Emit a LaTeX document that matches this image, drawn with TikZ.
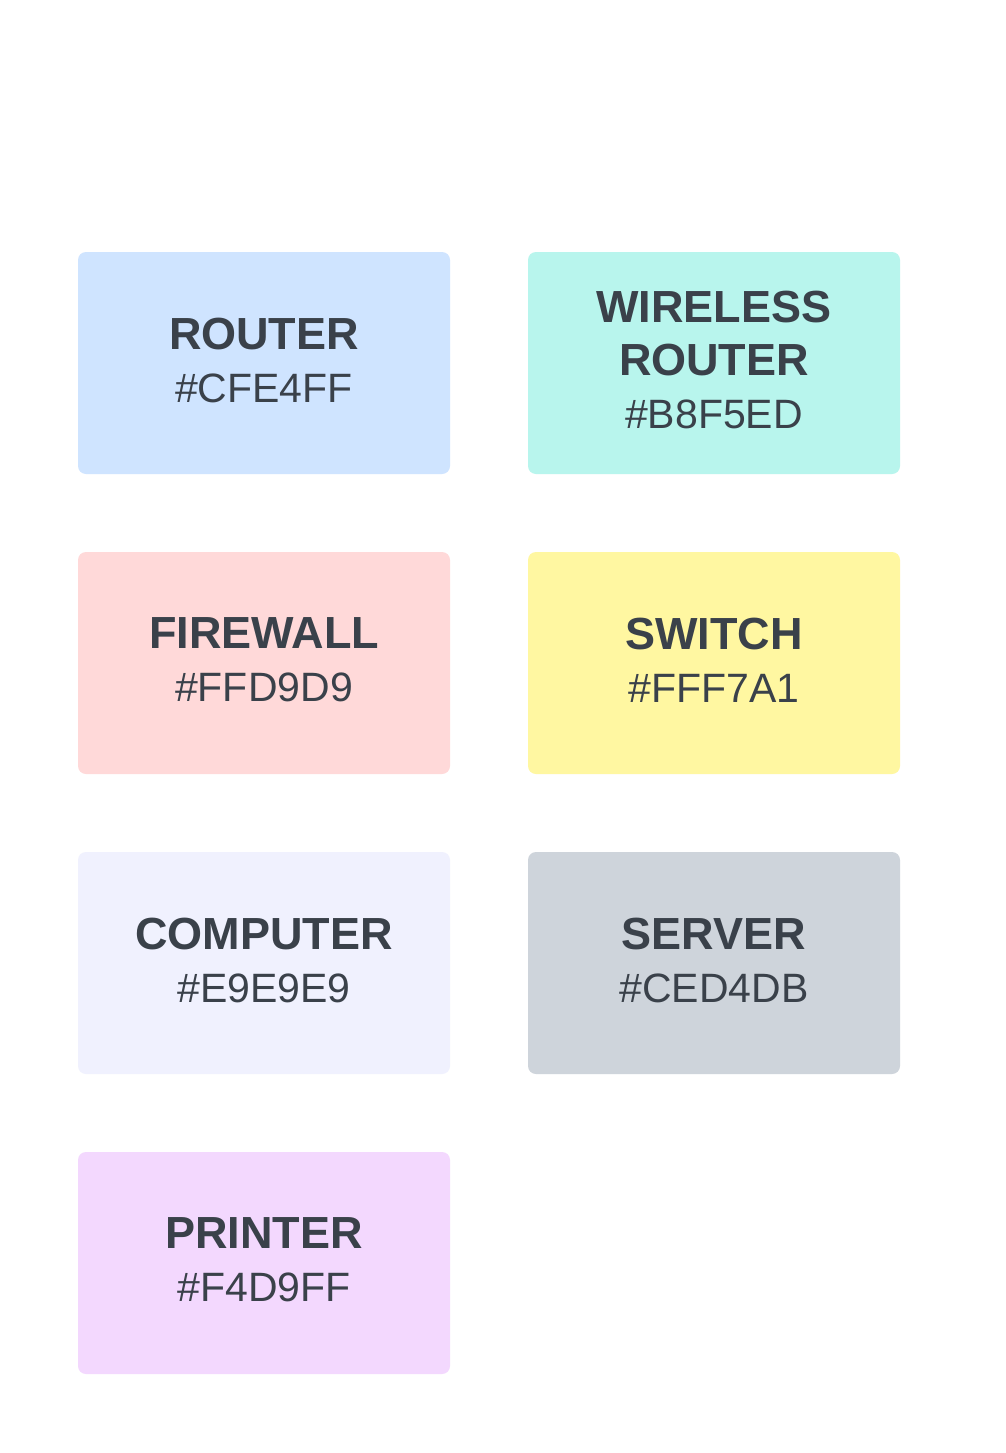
\documentclass[tikz,border=0pt]{standalone}
\usepackage{fontspec}
\setmainfont{Liberation Sans}
\definecolor{txt}{HTML}{3A414A}
\definecolor{cRouter}{HTML}{CFE4FF}
\definecolor{cWireless}{HTML}{B8F5ED}
\definecolor{cFirewall}{HTML}{FFD9D9}
\definecolor{cSwitch}{HTML}{FFF7A1}
\definecolor{cComputer}{HTML}{F0F1FE}
\definecolor{cServer}{HTML}{CED4DB}
\definecolor{cPrinter}{HTML}{F3D8FE}
\newcommand{\ttl}[1]{{\fontsize{45}{53}\selectfont\bfseries #1}}
\begin{document}
\begin{tikzpicture}[x=1pt,y=-1pt,
  swatch/.style={rounded corners=8pt, minimum width=372pt, minimum height=222pt,
    inner sep=0pt, outer sep=0pt, anchor=center},
  swtext/.style={align=center, text=txt, inner sep=0pt, yshift=3pt,
    font=\fontsize{41}{53}\selectfont}]
\useasboundingbox[fill=white] (0,0) rectangle (1005,1453);
\node[swatch, fill=cRouter, label={[swtext]center:{\ttl{ROUTER}\\\#CFE4FF}}] (router) at (264,363) {};
\node[swatch, fill=cWireless, label={[swtext]center:{\ttl{WIRELESS}\\\ttl{ROUTER}\\\#B8F5ED}}] (wireless) at (714,363) {};
\node[swatch, fill=cFirewall, label={[swtext]center:{\ttl{FIREWALL}\\\#FFD9D9}}] (firewall) at (264,663) {};
\node[swatch, fill=cSwitch, label={[swtext]center:{\ttl{SWITCH}\\\#FFF7A1}}] (switch) at (714,663) {};
\node[swatch, fill=cComputer, label={[swtext]center:{\ttl{COMPUTER}\\\#E9E9E9}}] (computer) at (264,963) {};
\node[swatch, fill=cServer, label={[swtext]center:{\ttl{SERVER}\\\#CED4DB}}] (server) at (714,963) {};
\node[swatch, fill=cPrinter, label={[swtext]center:{\ttl{PRINTER}\\\#F4D9FF}}] (printer) at (264,1263) {};
\end{tikzpicture}
\end{document}
